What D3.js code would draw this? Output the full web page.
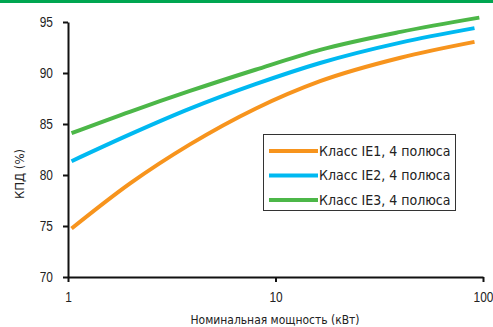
<!DOCTYPE html>
<html><head><meta charset="utf-8">
<script src="https://cdn.jsdelivr.net/npm/d3@7"></script>
<style>
html,body{margin:0;padding:0;background:#fff;}
svg{display:block;font-family:"Liberation Sans Narrow","Arial Narrow","DejaVu Sans Condensed",sans-serif;}
</style></head>
<body>
<svg id="chart" width="493" height="327"></svg>
<script>
const seriesNames = ["Класс IE1, 4 полюса", "Класс IE2, 4 полюса", "Класс IE3, 4 полюса"];
const powerIE1 = [1.04, 2, 3.87, 8, 16.4, 40, 91];
const effIE1 = [74.75, 79.2, 83.0, 86.5, 89.2, 91.5, 93.05];
const powerIE2 = [1.04, 2, 3.87, 8, 16.4, 40, 91];
const effIE2 = [81.35, 84.0, 86.5, 88.9, 90.98, 92.98, 94.4];
const powerIE3 = [1.04, 2, 3.87, 8, 16.4, 40, 96];
const effIE3 = [84.1, 86.22, 88.24, 90.32, 92.27, 94.03, 95.43];
const xTicks = [1, 10, 100];
const yTicks = [70, 75, 80, 85, 90, 95];
const colors = ["#F7941D", "#00B9F1", "#4CB748"];
const xTitle = "Номинальная мощность (кВт)";
const yTitle = "КПД (%)";

const svg = d3.select("#chart");
svg.append("rect").attr("x",0).attr("y",0).attr("width",493).attr("height",3).attr("fill","#00A651");

const x = d3.scaleLog().domain([1,100]).range([68,483]);
const y = d3.scaleLinear().domain([70,95]).range([277,22]);

const series = [
  {name: seriesNames[0], xs: powerIE1, ys: effIE1, color: colors[0]},
  {name: seriesNames[1], xs: powerIE2, ys: effIE2, color: colors[1]},
  {name: seriesNames[2], xs: powerIE3, ys: effIE3, color: colors[2]}
];

const line = d3.line().x(d=>x(d[0])).y(d=>y(d[1])).curve(d3.curveMonotoneX);
series.forEach(s=>{
  svg.append("path").datum(s.xs.map((v,i)=>[v,s.ys[i]]))
    .attr("d", line).attr("fill","none").attr("stroke", s.color).attr("stroke-width",4);
});

const yAxis = svg.append("g").attr("transform","translate(68,0)")
  .call(d3.axisLeft(y).tickValues(yTicks).tickSize(5).tickPadding(10).tickSizeOuter(0));
const xAxis = svg.append("g").attr("transform","translate(0,277)")
  .call(d3.axisBottom(x).tickValues(xTicks).tickFormat(d3.format("d")).tickSize(5).tickPadding(10).tickSizeOuter(0));
[yAxis,xAxis].forEach(a=>{
  a.select(".domain").attr("stroke","#111").attr("stroke-width",2);
  a.selectAll(".tick line").attr("stroke","#111").attr("stroke-width",2);
  a.selectAll(".tick text").attr("fill","#222").attr("font-size",14).attr("font-family",null);
});
xAxis.selectAll(".tick text").attr("transform","scale(0.85,1)");
yAxis.selectAll(".tick text").attr("transform","translate(-16,0) scale(0.85,1) translate(16,0)");

svg.append("text").attr("transform","translate(275,324) scale(0.92,1)").attr("text-anchor","middle")
  .attr("font-size",13).attr("fill","#222").text(xTitle);
svg.append("text").attr("transform","translate(24,174) rotate(-90)").attr("text-anchor","middle")
  .attr("font-size",13).attr("fill","#222").text(yTitle);

const lg = svg.append("g");
lg.append("rect").attr("x",263.5).attr("y",134.5).attr("width",192).attr("height",76)
  .attr("fill","#fff").attr("stroke","#333").attr("stroke-width",1);
series.forEach((s,i)=>{
  const cy = 151 + i*24.5;
  lg.append("line").attr("x1",269).attr("x2",318).attr("y1",cy).attr("y2",cy)
    .attr("stroke",s.color).attr("stroke-width",4);
  lg.append("text").attr("x",319).attr("y",cy).attr("dy","0.35em")
    .attr("font-size",14).attr("fill","#222").text(s.name);
});
</script>
</body></html>
